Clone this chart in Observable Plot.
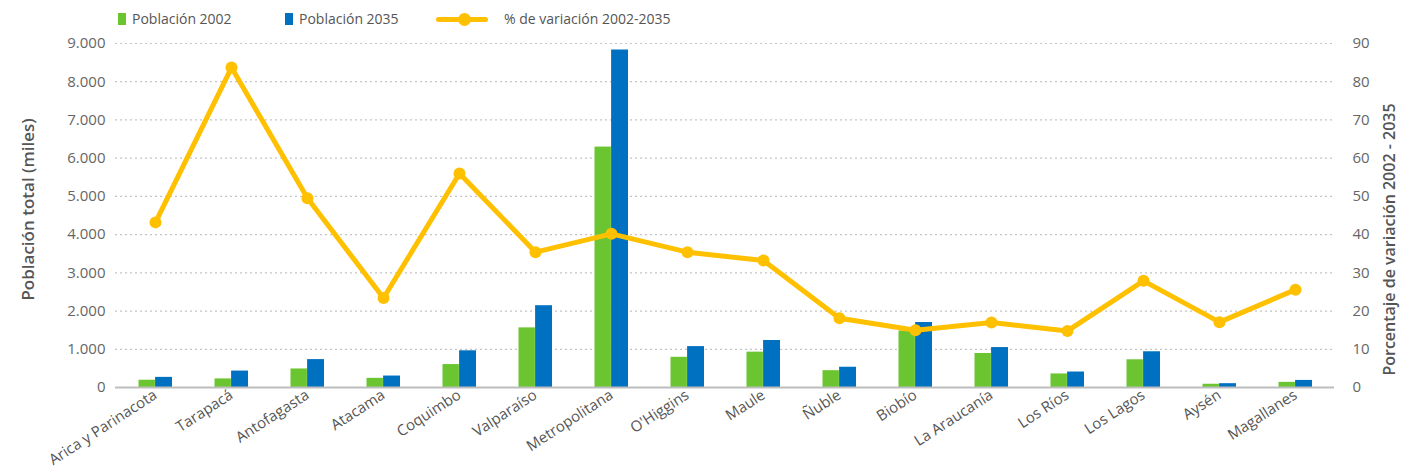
<!DOCTYPE html>
<html><head><meta charset="utf-8">
<script src="https://cdn.jsdelivr.net/npm/d3@7"></script>
<script src="https://cdn.jsdelivr.net/npm/@observablehq/plot@0.6"></script>
<style>
body{margin:0;background:#fff;font-family:"Open Sans",sans-serif;}
#legend{position:relative;height:28px;width:1401px;font-size:14px;color:#555;}
#legend .sw{position:absolute;top:13px;width:8px;height:12px;}
#legend .tx{position:absolute;top:9px;line-height:20px;white-space:nowrap;}
#legend .ln{position:absolute;top:17px;height:5px;border-radius:3px;}
#legend .dt{position:absolute;top:13px;width:13px;height:13px;border-radius:50%;}
</style></head><body>
<div id="legend"></div>
<div id="chart"></div>
<script>
const regions = ["Arica y Parinacota","Tarapacá","Antofagasta","Atacama","Coquimbo","Valparaíso","Metropolitana","O'Higgins","Maule","Ñuble","Biobío","La Araucanía","Los Ríos","Los Lagos","Aysén","Magallanes"];
const pop2002 = [190, 225, 485, 240, 600, 1560, 6290, 790, 925, 440, 1480, 890, 355, 725, 85, 135];
const pop2035 = [265, 430, 730, 300, 960, 2140, 8830, 1070, 1230, 530, 1700, 1045, 405, 935, 100, 185];
const pctChange = [43.2, 83.7, 49.5, 23.4, 56.0, 35.4, 40.2, 35.4, 33.2, 18.1, 15.0, 17.0, 14.8, 27.9, 17.1, 25.6];
const leftTicks = [0,1000,2000,3000,4000,5000,6000,7000,8000,9000];
const rightTickLabels = [0,10,20,30,40,50,60,70,80,90];
const seriesNames = ["Población 2002","Población 2035","% de variación 2002-2035"];
const colors = ["#6BC530","#0070C0","#FFC000"];

const data = regions.map((r,i)=>({region:r, p2002:pop2002[i], p2035:pop2035[i], pct:pctChange[i]}));
const loc = d3.formatLocale({thousands:".", decimal:",", grouping:[3], currency:["$",""]});
const fmt = loc.format(",");

// legend
const lg = document.getElementById("legend");
lg.innerHTML =
  `<div class="sw" style="left:118px;background:${colors[0]}"></div><div class="tx" style="left:132px">${seriesNames[0]}</div>`+
  `<div class="sw" style="left:285px;background:${colors[1]}"></div><div class="tx" style="left:299px">${seriesNames[1]}</div>`+
  `<div class="ln" style="left:436px;width:52px;background:${colors[2]}"></div><div class="dt" style="left:458px;background:${colors[2]}"></div><div class="tx" style="left:504px">${seriesNames[2]}</div>`;

const W = 1401, H = 445;
const chart = Plot.plot({
  width: W, height: H,
  marginTop: 15, marginBottom: 86, marginLeft: 115, marginRight: 67,
  style: {fontFamily: '"Open Sans", sans-serif', fontSize: "15px", color: "#666", background: "#fff"},
  x: {type: "band", domain: regions, padding: 0, label: null},
  y: {domain: [0, 9000], label: null},
  marks: [
    Plot.ruleY(leftTicks.slice(1), {stroke: "#c4c4c4", strokeDasharray: "2,3", strokeWidth: 1.2}),
    Plot.barY(data, {x: "region", y: "p2002", fill: colors[0], insetLeft: 21.5, insetRight: 38.1}),
    Plot.barY(data, {x: "region", y: "p2035", fill: colors[1], insetLeft: 38.1, insetRight: 21}),
    Plot.ruleY([0], {stroke: "#bdbdbd", strokeWidth: 2}),
    Plot.line(data, {x: "region", y: d => d.pct * 100, stroke: colors[2], strokeWidth: 5, strokeLinejoin: "round"}),
    Plot.dot(data, {x: "region", y: d => d.pct * 100, r: 6, fill: colors[2]}),
    Plot.axisY({ticks: leftTicks, tickFormat: fmt, tickSize: 0, tickPadding: 10, label: null, fontSize: 15}),
    Plot.axisY({anchor: "right", ticks: leftTicks, tickFormat: (d,i) => rightTickLabels[i], tickSize: 0, tickPadding: 18, label: null, fontSize: 15}),
    Plot.axisX({tickRotate: -33, tickSize: 0, tickPadding: 6, label: null, fontSize: 15, fill: "#555"}),
    Plot.text(["Población total (miles)"], {frameAnchor: "left", textAnchor: "middle", dx: -87, dy: -6, rotate: -90, fontSize: 17, fontWeight: 600, fill: "#555"}),
    Plot.text(["Porcentaje de variación 2002 - 2035"], {frameAnchor: "right", textAnchor: "middle", dx: 55, dy: 24, rotate: -90, fontSize: 16, fontWeight: 600, fill: "#555"})
  ]
});
document.getElementById("chart").appendChild(chart);
</script>
</body></html>
